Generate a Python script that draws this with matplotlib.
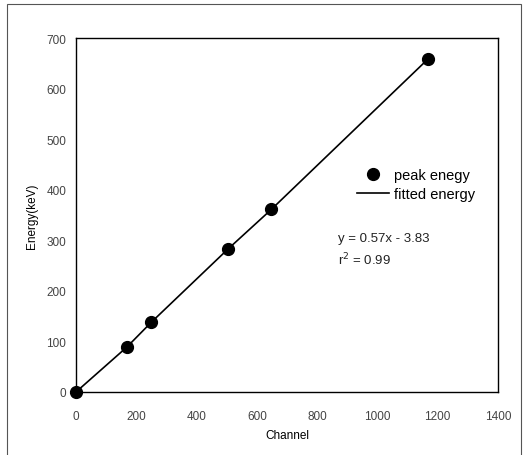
import matplotlib.pyplot as plt
from matplotlib.patches import Rectangle

plt.rcParams['font.family'] = ['Liberation Sans', 'DejaVu Sans']

# Calibration data
channel = [0, 169, 250, 503, 648, 1167]
peak_energy = [0, 89, 138, 282, 361, 658]
fitted_energy = [0, 89, 138, 282, 361, 658]

fig = plt.figure(figsize=(5.28, 4.56), dpi=100)
ax = fig.add_axes([76 / 528, 1 - 393 / 456, (498 - 76) / 528, (393 - 39) / 456])

# outer frame round the whole figure
fig.patches.append(Rectangle((7 / 528, -0.05), (521 - 7) / 528, 1 - 5 / 456 + 0.05,
                             transform=fig.transFigure, fill=False,
                             edgecolor='#555555', linewidth=0.8))

ax.plot(channel, fitted_energy, '-', color='black', linewidth=1.2, label='fitted energy', zorder=2)
ax.plot(channel, peak_energy, 'o', color='black', markersize=8.5, label='peak enegy', zorder=3,
        clip_on=False)

ax.set_xlim(0, 1400)
ax.set_ylim(0, 700)
ax.set_xticks(range(0, 1401, 200))
ax.set_yticks(range(0, 701, 100))
ax.tick_params(length=0, labelsize=8.5, colors='#444444')
ax.tick_params(axis='x', pad=13)
ax.tick_params(axis='y', pad=7)
for s in ax.spines.values():
    s.set_linewidth(1.0)
    s.set_color('black')

ax.set_xlabel('Channel', fontsize=8.5, labelpad=5)
ax.set_ylabel('Energy(keV)', fontsize=8.5, labelpad=6)

handles, labels = ax.get_legend_handles_labels()
ax.legend(handles[::-1], labels[::-1], loc='upper left', bbox_to_anchor=(0.635, 0.67),
          frameon=False, fontsize=10.5, handlelength=2.2, handletextpad=0.3,
          labelspacing=0.35)

ax.text(0.62, 0.435, 'y = 0.57x - 3.83', transform=ax.transAxes, fontsize=9.5,
        va='center', color='#222222')
ax.text(0.62, 0.376, 'r$^2$ = 0.99', transform=ax.transAxes, fontsize=9.5,
        va='center', color='#222222')

fig.savefig('out.png', dpi=100)
